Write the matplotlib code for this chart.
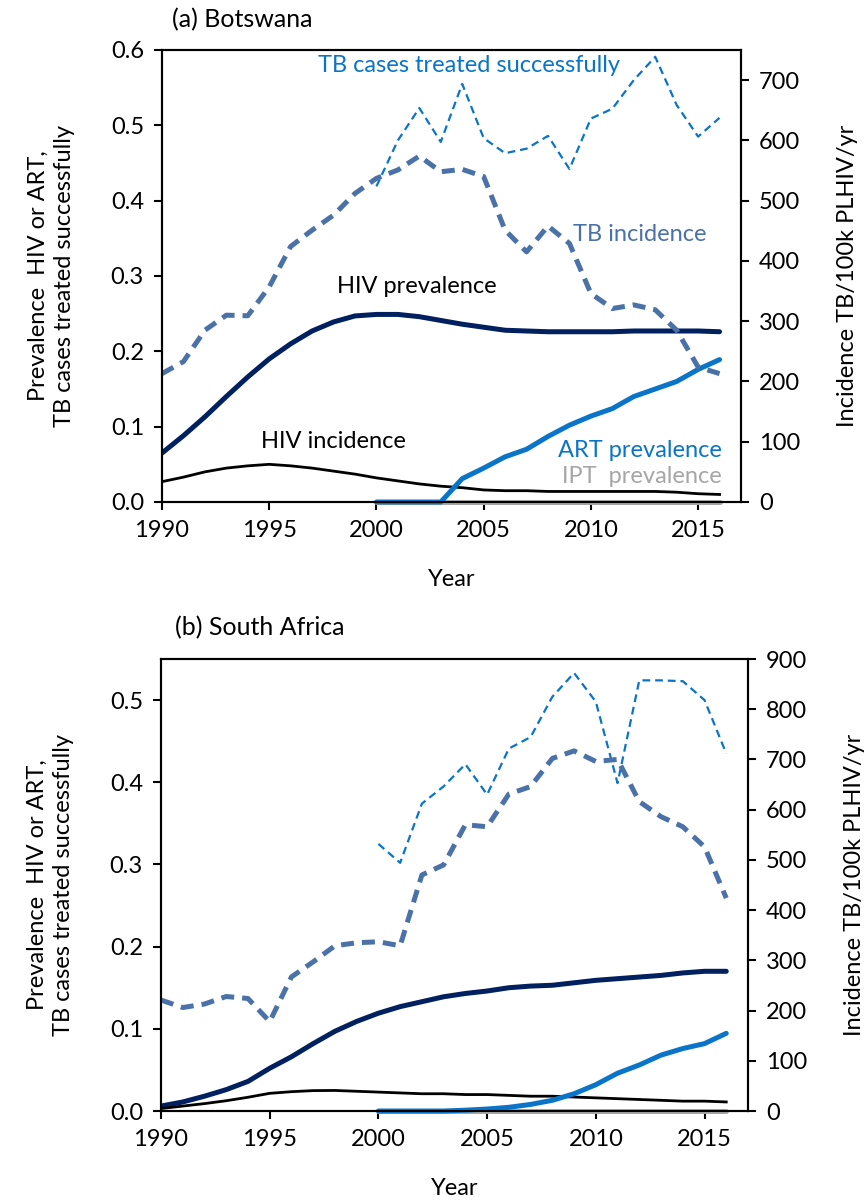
import matplotlib
matplotlib.use("Agg")
import matplotlib.pyplot as plt
from matplotlib.ticker import FormatStrFormatter

plt.rcParams['font.family'] = ['Lato', 'DejaVu Sans']
plt.rcParams['font.size'] = 17

# Data
years = list(range(1990, 2017))
years_2000 = list(range(2000, 2017))

# (a) Botswana
bw_hiv_prev = [0.065, 0.088, 0.113, 0.140, 0.166, 0.190, 0.210, 0.227, 0.239, 0.247,
               0.249, 0.249, 0.246, 0.241, 0.236, 0.232, 0.228, 0.227, 0.226, 0.226,
               0.226, 0.226, 0.227, 0.227, 0.227, 0.227, 0.226]
bw_hiv_inc = [0.027, 0.033, 0.040, 0.045, 0.048, 0.050, 0.048, 0.045, 0.041, 0.037,
              0.032, 0.028, 0.024, 0.021, 0.019, 0.016, 0.015, 0.015, 0.014, 0.014,
              0.014, 0.014, 0.014, 0.014, 0.013, 0.011, 0.010]
bw_art_prev = [0.0, 0.0, 0.0, 0.0, 0.031, 0.045, 0.060, 0.070, 0.087, 0.102,
               0.114, 0.124, 0.140, 0.150, 0.160, 0.176, 0.189]
bw_ipt_prev = [0.0] * 17
bw_tb_success = [0.419, 0.480, 0.523, 0.478, 0.555, 0.483, 0.463, 0.469, 0.486, 0.442,
                 0.509, 0.522, 0.560, 0.591, 0.527, 0.485, 0.510]
bw_tb_inc = [213, 233, 285, 310, 309, 357, 424, 451, 476, 512,
             537, 551, 574, 548, 552, 540, 451, 415, 458, 429,
             346, 321, 327, 319, 285, 224, 213]

# (b) South Africa
za_hiv_prev = [0.006, 0.011, 0.018, 0.026, 0.036, 0.052, 0.066, 0.082, 0.097, 0.109,
               0.119, 0.127, 0.133, 0.139, 0.143, 0.146, 0.150, 0.152, 0.153, 0.156,
               0.159, 0.161, 0.163, 0.165, 0.168, 0.170, 0.170]
za_hiv_inc = [0.003, 0.006, 0.009, 0.0125, 0.0167, 0.0215, 0.0235, 0.0248, 0.025, 0.024,
              0.023, 0.022, 0.021, 0.021, 0.020, 0.020, 0.019, 0.018, 0.018, 0.017,
              0.016, 0.015, 0.014, 0.013, 0.012, 0.012, 0.011]
za_art_prev = [0.0, 0.0, 0.0, 0.0, 0.001, 0.0024, 0.0045, 0.008, 0.013, 0.021,
               0.032, 0.046, 0.056, 0.068, 0.076, 0.082, 0.0945]
za_ipt_prev = [0.0] * 17
za_tb_success = [0.325, 0.302, 0.374, 0.395, 0.422, 0.385, 0.441, 0.455, 0.504, 0.533,
                 0.498, 0.399, 0.524, 0.524, 0.523, 0.500, 0.435]
za_tb_inc = [221, 206, 213, 228, 224, 178, 267, 297, 329, 335,
             337, 329, 470, 490, 570, 566, 631, 646, 702, 717,
             696, 700, 616, 586, 566, 526, 424]

c_hiv = "#002060"
c_tbinc = "#4A72A8"
c_blue = "#0A74C8"
c_grey = "#A6A6A6"

fig = plt.figure(figsize=(8.68, 12), dpi=100)


def panel(rect, hiv_prev, hiv_inc, art, ipt, tb_succ, tb_inc, ymax, ymax2, yticks, y2ticks):
    ax = fig.add_axes(rect)
    ax2 = ax.twinx()
    ax.plot(years, hiv_prev, color=c_hiv, lw=3.6, solid_capstyle='round', zorder=4)
    ax.plot(years, hiv_inc, color="black", lw=2.0, zorder=4)
    ax.plot(years_2000, ipt, color=c_grey, lw=3.6, solid_capstyle='round', clip_on=False, zorder=3)
    ax.plot(years_2000, art, color=c_blue, lw=3.6, solid_capstyle='round', clip_on=False, zorder=4)
    ax.plot(years_2000, tb_succ, color=c_blue, lw=1.6, dashes=(3.5, 2.2), zorder=4)
    ax2.plot(years, tb_inc, color=c_tbinc, lw=3.6, dashes=(2.6, 1.6))

    ax.set_xlim(1990, 2017)
    ax.set_ylim(0, ymax)
    ax2.set_ylim(0, ymax2)
    ax.set_xticks([1990, 1995, 2000, 2005, 2010, 2015])
    ax.set_yticks(yticks)
    ax2.set_yticks(y2ticks)
    ax.yaxis.set_major_formatter(FormatStrFormatter('%.1f'))
    for a in (ax, ax2):
        a.tick_params(direction='out', length=6, width=1.5, labelsize=17, pad=7)
        for s in a.spines.values():
            s.set_linewidth(1.5)
    ax.set_xlabel("Year", fontsize=17, labelpad=20)
    ax.set_ylabel("Prevalence  HIV or ART,\nTB cases treated successfully", fontsize=17,
                  linespacing=1.3, labelpad=26)
    ax2.set_ylabel("Incidence TB/100k PLHIV/yr", fontsize=17, labelpad=26)
    return ax, ax2


ax_a, ax2_a = panel([162 / 868, 1 - 502 / 1200, 579 / 868, 452 / 1200],
                    bw_hiv_prev, bw_hiv_inc, bw_art_prev, bw_ipt_prev, bw_tb_success, bw_tb_inc,
                    0.6, 750, [0, 0.1, 0.2, 0.3, 0.4, 0.5, 0.6], [0, 100, 200, 300, 400, 500, 600, 700])
ax_b, ax2_b = panel([161 / 868, 1 - 1111 / 1200, 587 / 868, 452 / 1200],
                    za_hiv_prev, za_hiv_inc, za_art_prev, za_ipt_prev, za_tb_success, za_tb_inc,
                    0.55, 900, [0, 0.1, 0.2, 0.3, 0.4, 0.5], list(range(0, 1000, 100)))

# series labels (panel a)
ax_a.text(2004.3, 0.580, "TB cases treated successfully", color=c_blue, ha='center', va='center')
ax_a.text(2012.3, 0.355, "TB incidence", color=c_tbinc, ha='center', va='center')
ax_a.text(2001.9, 0.286, "HIV prevalence", color='black', ha='center', va='center')
ax_a.text(1998.0, 0.080, "HIV incidence", color='black', ha='center', va='center')
ax_a.text(2016.1, 0.068, "ART prevalence", color=c_blue, ha='right', va='center')
ax_a.text(2016.1, 0.034, "IPT  prevalence", color=c_grey, ha='right', va='center')

fig.text(172 / 868, 1 - 20 / 1200, "(a) Botswana", fontsize=18, ha='left', va='center')
fig.text(175 / 868, 1 - 628 / 1200, "(b) South Africa", fontsize=18, ha='left', va='center')

fig.savefig("out.png", dpi=100)
